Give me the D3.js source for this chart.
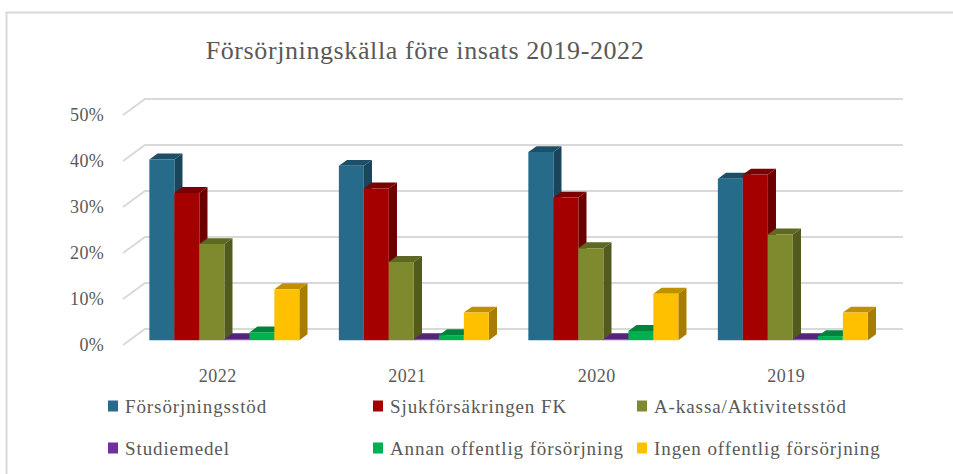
<!DOCTYPE html>
<html>
<head>
<meta charset="utf-8">
<script src="https://cdn.jsdelivr.net/npm/d3@7"></script>
<style>
  body { margin: 0; background: #fff; }
  text { font-family: "Liberation Serif", "DejaVu Serif", serif; fill: #595959; }
</style>
</head>
<body>
<div id="chart"></div>
<script>
const years = ["2022", "2021", "2020", "2019"];
const seriesNames = [
  "Försörjningsstöd",
  "Sjukförsäkringen FK",
  "A-kassa/Aktivitetsstöd",
  "Studiemedel",
  "Annan offentlig försörjning",
  "Ingen offentlig försörjning"
];
const seriesColors = ["#276b8a", "#a50000", "#7f8a2e", "#7030a0", "#00b050", "#ffc000"];
// share per year, in series order
const forsorjningsstod = [0.393, 0.379, 0.409, 0.351];
const sjukforsakring = [0.320, 0.330, 0.310, 0.360];
const akassa = [0.209, 0.170, 0.200, 0.230];
const studiemedel = [0.002, 0.002, 0.002, 0.002];
const annanOffentlig = [0.017, 0.011, 0.020, 0.009];
const ingenOffentlig = [0.111, 0.060, 0.101, 0.060];
const seriesValues = [forsorjningsstod, sjukforsakring, akassa, studiemedel, annanOffentlig, ingenOffentlig];
const yTicks = [0, 0.1, 0.2, 0.3, 0.4, 0.5];

const width = 953, height = 474;
const depthX = 22, depthY = -16;      // offset of the back wall
const barF0 = 0.3, barF1 = 0.67;      // bar depth on the floor

const svg = d3.select("#chart").append("svg")
  .attr("width", width).attr("height", height);

// outer frame
svg.append("path")
  .attr("d", `M6.5,${height} V12.5 H${width}`)
  .attr("fill", "none").attr("stroke", "#d9d9d9").attr("stroke-width", 2);

svg.append("text")
  .attr("x", 425).attr("y", 59)
  .attr("text-anchor", "middle")
  .style("font-size", "26px")
  .style("letter-spacing", "0.6px")
  .text("Försörjningskälla före insats 2019-2022");

const x0 = d3.scaleBand().domain(years).range([123, 881]);
const x1 = d3.scaleBand().domain(seriesNames).range([0, x0.bandwidth()]).paddingOuter(0.79);
const y = d3.scaleLinear().domain([0, 0.5]).range([345, 115]);

// gridlines on the side and back wall
svg.append("g").selectAll("path").data(yTicks).join("path")
  .attr("d", t => `M123,${y(t)} L${123 + depthX},${y(t) + depthY} L${881 + depthX},${y(t) + depthY}`)
  .attr("fill", "none").attr("stroke", "#d9d9d9").attr("stroke-width", 2);

svg.append("g").selectAll("text").data(yTicks).join("text")
  .attr("x", 104).attr("y", t => y(t))
  .attr("dy", "0.35em")
  .attr("text-anchor", "end")
  .style("font-size", "18px")
  .style("letter-spacing", "0.3px")
  .text(d3.format(".0%"));

svg.append("g").selectAll("text").data(years).join("text")
  .attr("x", d => x0(d) + x0.bandwidth() / 2).attr("y", 376)
  .attr("dy", "0.35em")
  .attr("text-anchor", "middle")
  .style("font-size", "18px")
  .style("letter-spacing", "0.5px")
  .text(d => d);

// bars
const bars = [];
years.forEach((yr, i) => {
  seriesNames.forEach((s, j) => {
    bars.push({ year: yr, series: s, value: seriesValues[j][i], color: seriesColors[j] });
  });
});

const P = (px, py, f) => [px + depthX * f, py + depthY * f];
const poly = pts => "M" + pts.map(p => p.join(",")).join("L") + "Z";

const barG = svg.append("g").selectAll("g").data(bars).join("g");
barG.each(function(d) {
  const g = d3.select(this);
  const xa = x0(d.year) + x1(d.series), xb = xa + x1.bandwidth();
  const yt = y(d.value), yb = y(0);
  const c = d3.color(d.color);
  g.append("path")
    .attr("d", poly([P(xb, yb, barF0), P(xb, yb, barF1), P(xb, yt, barF1), P(xb, yt, barF0)]))
    .attr("fill", c.darker(1.2));
  g.append("path")
    .attr("d", poly([P(xa, yt, barF0), P(xb, yt, barF0), P(xb, yt, barF1), P(xa, yt, barF1)]))
    .attr("fill", c.darker(0.8));
  g.append("path")
    .attr("d", poly([P(xa, yb, barF0), P(xb, yb, barF0), P(xb, yt, barF0), P(xa, yt, barF0)]))
    .attr("fill", c);
});

// legend
const legendX = [108, 373, 637];
const legendY = [406, 448];
const leg = svg.append("g").selectAll("g").data(seriesNames).join("g")
  .attr("transform", (d, i) => `translate(${legendX[i % 3]},${legendY[Math.floor(i / 3)]})`);
leg.append("rect")
  .attr("x", 0).attr("y", -5.5).attr("width", 10).attr("height", 11)
  .attr("fill", (d, i) => seriesColors[i]);
leg.append("text")
  .attr("x", 17).attr("dy", "0.35em")
  .style("font-size", "19px")
  .style("letter-spacing", "0.9px")
  .text(d => d);
</script>
</body>
</html>
